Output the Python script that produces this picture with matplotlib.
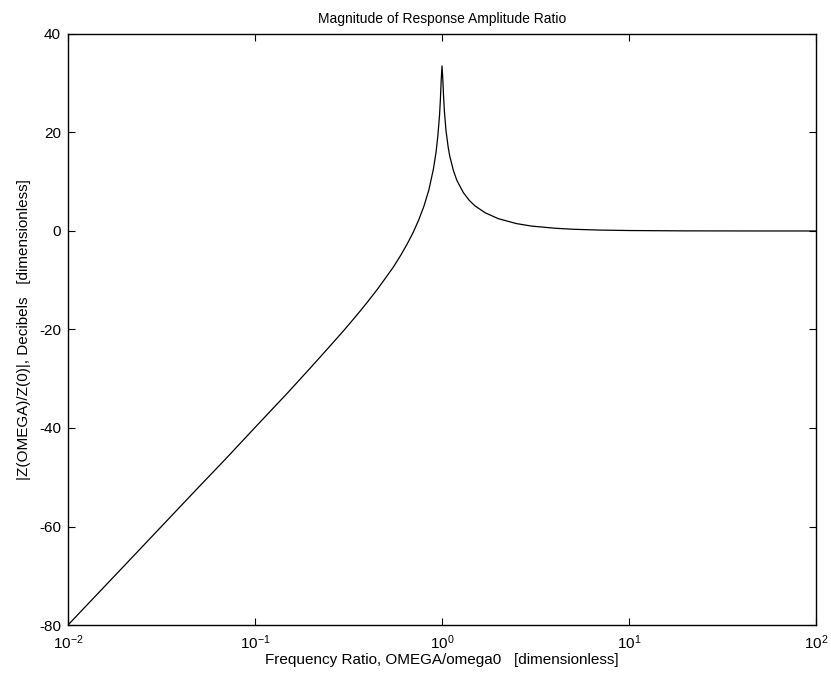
import numpy as np
import matplotlib
matplotlib.use("Agg")
import matplotlib.pyplot as plt
from matplotlib.ticker import LogLocator, NullLocator

# Valores (razao de frequencia e magnitude em dB)
freqRatio = [0.01, 0.02, 0.03, 0.05, 0.07, 0.1, 0.15, 0.2, 0.25, 0.3, 0.35,
             0.4, 0.45, 0.5, 0.55, 0.6, 0.65, 0.7, 0.75, 0.8, 0.85, 0.9,
             0.93, 0.95, 0.97, 0.98, 0.99, 1.0, 1.01, 1.02, 1.03, 1.05,
             1.08, 1.1, 1.15, 1.2, 1.3, 1.4, 1.5, 1.7, 2.0, 2.5, 3.0, 4.0,
             5.0, 7.0, 10.0, 20.0, 50.0, 100.0]
magDb = [-80.0, -67.96, -60.9, -52.0, -46.2, -39.9, -32.8, -27.6, -23.5,
         -20.1, -17.1, -14.4, -11.9, -9.5, -7.3, -5.0, -2.7, -0.35, 2.2,
         5.0, 8.3, 12.6, 16.1, 19.3, 23.5, 26.6, 30.6, 33.5, 30.8, 27.1,
         24.3, 20.4, 16.9, 15.2, 12.3, 10.3, 7.8, 6.2, 5.1, 3.7, 2.5, 1.5,
         1.0, 0.56, 0.35, 0.18, 0.09, 0.02, 0.0, 0.0]

yTicks = [-80, -60, -40, -20, 0, 20, 40]

plt.rcParams['font.family'] = ['Liberation Sans', 'DejaVu Sans']
plt.rcParams['mathtext.default'] = 'regular'
plt.rcParams['axes.unicode_minus'] = False

fig = plt.figure(figsize=(8.31, 6.79), dpi=100)
ax = fig.add_axes([0.0818, 0.0795, 0.9002, 0.8705])

ax.semilogx(freqRatio, magDb, color='black', linewidth=0.9)

ax.set_xlim(1e-2, 1e2)
ax.set_ylim(-80, 40)
ax.set_yticks(yTicks)
ax.xaxis.set_major_locator(LogLocator(base=10, numticks=10))
ax.xaxis.set_minor_locator(NullLocator())

ax.tick_params(direction='in', length=5, width=0.8, top=True, right=True,
               labelsize=11, colors='black')
ax.tick_params(axis='x', pad=6)
ax.tick_params(axis='y', pad=5)
for s in ax.spines.values():
    s.set_linewidth(1.0)
    s.set_color('black')

ax.set_title('Magnitude of Response Amplitude Ratio', fontsize=10, pad=8)
ax.set_xlabel('Frequency Ratio, OMEGA/omega0   [dimensionless]', fontsize=11, labelpad=1)
ax.set_ylabel('|Z(OMEGA)/Z(0)|, Decibels   [dimensionless]', fontsize=11, labelpad=6)

fig.savefig('out.png', dpi=100)
